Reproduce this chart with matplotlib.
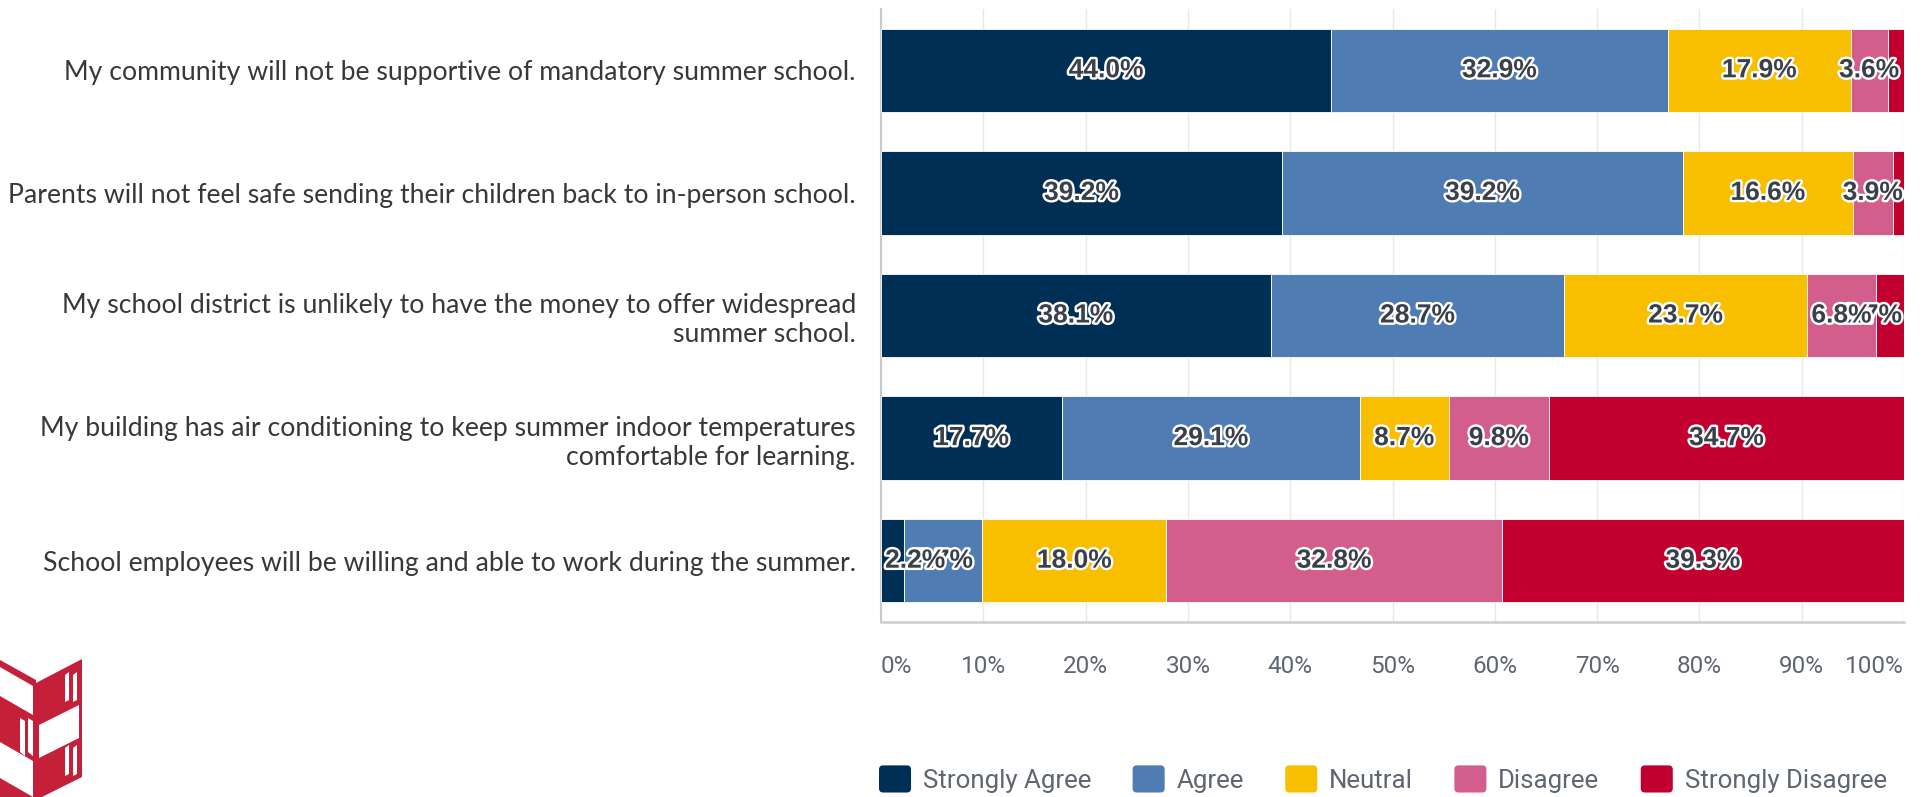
import numpy as np
import matplotlib
matplotlib.use("Agg")
import matplotlib.pyplot as plt
import matplotlib.patheffects as pe
from matplotlib.patches import Polygon, Patch, FancyBboxPatch
from matplotlib.legend_handler import HandlerPatch

# 数据
statements = [
    "My community will not be supportive of mandatory summer school.",
    "Parents will not feel safe sending their children back to in-person school.",
    "My school district is unlikely to have the money to offer widespread\nsummer school.",
    "My building has air conditioning to keep summer indoor temperatures\ncomfortable for learning.",
    "School employees will be willing and able to work during the summer.",
]
categories = ["Strongly Agree", "Agree", "Neutral", "Disagree", "Strongly Disagree"]
strongly_agree = [44.0, 39.2, 38.1, 17.7, 2.2]
agree = [32.9, 39.2, 28.7, 29.1, 7.7]
neutral = [17.9, 16.6, 23.7, 8.7, 18.0]
disagree = [3.6, 3.9, 6.8, 9.8, 32.8]
strongly_disagree = [1.6, 1.1, 2.7, 34.7, 39.3]
x_ticks = [0, 10, 20, 30, 40, 50, 60, 70, 80, 90, 100]
colors = ["#002F56", "#507CB4", "#F8BE00", "#D35E8C", "#C1002F"]

W, H = 1925, 797


def fx(x):
    return x / W


def fy(y):
    return 1 - y / H


class RoundSquare(HandlerPatch):
    def create_artists(self, legend, orig_handle, xdescent, ydescent,
                       width, height, fontsize, trans):
        p = FancyBboxPatch((-xdescent, -ydescent), width, height,
                           boxstyle="round,pad=0,rounding_size=3",
                           facecolor=orig_handle.get_facecolor(),
                           edgecolor="none", transform=trans)
        return [p]


fig = plt.figure(figsize=(W / 100, H / 100), dpi=100)
ax = fig.add_axes([fx(881), fy(622), fx(1904) - fx(881), fy(9) - fy(622)])

series = [strongly_agree, agree, neutral, disagree, strongly_disagree]
y = np.arange(len(statements))
left = np.zeros(len(statements))
stroke = [pe.withStroke(linewidth=3.4, foreground="white")]
for k, (vals, name, c) in enumerate(zip(series, categories, colors)):
    ax.barh(y, vals, left=left, height=0.68, color=c,
            edgecolor="white", linewidth=0.6, label=name, zorder=3)
    for i, v in enumerate(vals):
        if v < 2:
            continue
        xc, ha = left[i] + v / 2, "center"
        # 太窄的首尾段，标签贴着边缘放
        if k == 0 and v < 5:
            xc, ha = 0.4, "left"
        elif k == len(series) - 1 and v < 5:
            xc, ha = 99.8, "right"
        # 左边的标签压在右边的上面
        ax.text(xc, y[i], "%.1f%%" % v, ha=ha, va="center", fontsize=19,
                fontweight="bold", family=["Liberation Sans", "DejaVu Sans"],
                color="#3A4049", zorder=10 - k, path_effects=stroke)
    left += np.array(vals)

ax.set_xlim(0, 100)
ax.set_ylim(4.5, -0.5)
ax.set_yticks(y)
ax.set_yticklabels(statements, fontsize=19.2, family=["Lato", "DejaVu Sans"],
                   color="#383838", ha="right")
ax.set_xticks(x_ticks)
xt = ax.set_xticklabels(["%d%%" % t for t in x_ticks], fontsize=17.5,
                        family=["Roboto", "DejaVu Sans"], color="#5E6670")
xt[0].set_ha("left")
xt[-1].set_ha("right")
ax.tick_params(axis="y", length=0, pad=18)
ax.tick_params(axis="x", length=0, pad=24)

ax.xaxis.grid(True, color="#E8E8E8", linewidth=1)
ax.set_axisbelow(True)
for s in ["top", "right"]:
    ax.spines[s].set_visible(False)
ax.spines["left"].set_color("#C9C9C9")
ax.spines["left"].set_linewidth(1.5)
ax.spines["bottom"].set_color("#CDCDCD")
ax.spines["bottom"].set_linewidth(1.8)

handles = [Patch(facecolor=c, label=n) for c, n in zip(colors, categories)]
leg = fig.legend(handles=handles, loc="center left",
                 bbox_to_anchor=(fx(879), fy(779)), ncol=5, frameon=False,
                 handler_map={Patch: RoundSquare()},
                 prop={"family": ["Roboto", "DejaVu Sans"], "size": 18.6},
                 handlelength=1.24, handleheight=1.24, handletextpad=0.46,
                 columnspacing=1.6, borderaxespad=0, borderpad=0,
                 labelcolor="#5E6670")

# 左下角的标志（部分被裁掉）
logo_red = "#C5203A"


def poly(pts, color):
    fig.add_artist(Polygon([(fx(a), fy(b)) for a, b in pts], closed=True,
                           facecolor=color, edgecolor="none",
                           transform=fig.transFigure))


# 右侧面
poly([(36, 683), (82, 659), (82, 777), (36, 800)], logo_red)
poly([(39, 725), (79, 705), (79, 738), (39, 758)], "white")
for x0, x1 in [(65, 69), (73, 77)]:
    poly([(x0, 675), (x1, 672), (x1, 700), (x0, 702)], "white")
    poly([(x0, 748), (x1, 745), (x1, 774), (x0, 776)], "white")
# 左侧面
poly([(0, 660), (36, 680), (36, 800), (0, 800)], logo_red)
poly([(0, 667), (33, 686), (33, 715), (0, 696)], "white")
poly([(0, 742), (33, 761), (33, 797), (0, 778)], "white")
for x0, x1 in [(20, 25), (28, 33)]:
    poly([(x0, 718), (x1, 721), (x1, 756), (x0, 752)], "white")

fig.savefig("out.png", dpi=100)
